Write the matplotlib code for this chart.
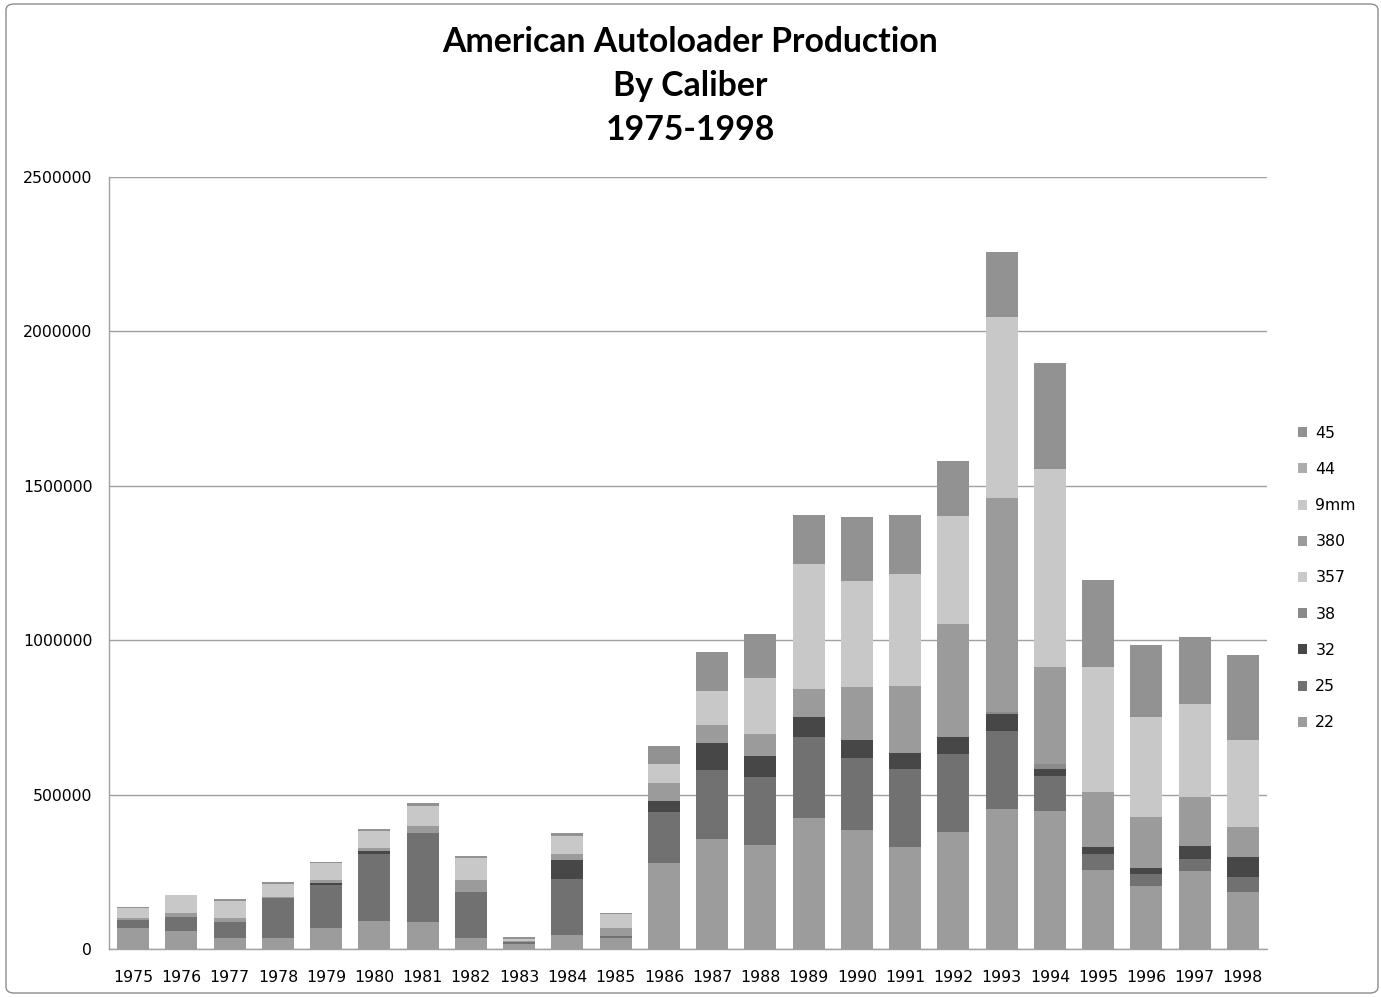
import matplotlib
matplotlib.use('Agg')
import matplotlib.pyplot as plt
import numpy as np
from matplotlib.patches import FancyBboxPatch

years = [str(y) for y in range(1975, 1999)]

# production by caliber (units)
cal22 = [69000, 59000, 36000, 36000, 69000, 90000, 86000, 36000, 16000, 46000, 36000, 279000,
         356000, 338000, 425000, 385000, 330000, 379000, 453000, 448000, 256000, 205000, 253000, 184000]
cal25 = [25000, 45000, 51000, 130000, 138000, 218000, 289000, 148000, 6000, 180000, 5000, 165000,
         225000, 219000, 262000, 234000, 253000, 254000, 253000, 111000, 53000, 38000, 39000, 50000]
cal32 = [0, 0, 0, 0, 6000, 10000, 2000, 0, 0, 63000, 0, 34000,
         87000, 68000, 63000, 58000, 53000, 53000, 55000, 25000, 21000, 19000, 43000, 64000]
cal38 = [0, 0, 0, 0, 0, 0, 0, 0, 0, 0, 0, 0,
         0, 0, 0, 0, 0, 0, 6000, 15000, 0, 0, 0, 0]
cal357 = [0] * 24
cal380 = [5000, 13000, 13000, 4000, 12000, 10000, 22000, 38000, 4000, 19000, 28000, 58000,
          58000, 72000, 92000, 170000, 216000, 367000, 694000, 314000, 180000, 166000, 156000, 97000]
cal9mm = [33000, 59000, 57000, 42000, 53000, 54000, 65000, 72000, 8000, 59000, 43000, 62000,
          108000, 180000, 404000, 345000, 362000, 349000, 587000, 643000, 402000, 322000, 303000, 282000]
cal44 = [0] * 24
cal45 = [5000, 0, 5000, 5000, 5000, 5000, 9000, 6000, 6000, 10000, 6000, 59000,
         127000, 142000, 160000, 206000, 191000, 179000, 210000, 343000, 283000, 234000, 215000, 274000]

series = [('22', cal22, '#9c9c9c'), ('25', cal25, '#717171'), ('32', cal32, '#474747'),
          ('38', cal38, '#8a8a8a'), ('357', cal357, '#c9c9c9'), ('380', cal380, '#9b9b9b'),
          ('9mm', cal9mm, '#c8c8c8'), ('44', cal44, '#acacac'), ('45', cal45, '#929292')]

fig = plt.figure(figsize=(13.81, 9.98), dpi=100)
ax = fig.add_axes([109/1381, 1-949/998, (1267-109)/1381, (949-177)/998])

x = np.arange(len(years))
bottom = np.zeros(len(years))
handles = []
for name, vals, col in series:
    h = ax.bar(x, vals, width=0.66, bottom=bottom, color=col, label=name, zorder=3)
    bottom += np.array(vals)
    handles.append(h)

ax.set_xlim(-0.5, len(years) - 0.5)
ax.set_ylim(0, 2500000)
ax.set_yticks(np.arange(0, 2500001, 500000))
ax.ticklabel_format(axis='y', style='plain')
ax.set_xticks(x)
ax.set_xticklabels(years)
ax.tick_params(axis='both', length=0, labelsize=11.3, colors='#000000')
ax.tick_params(axis='y', pad=12)
ax.tick_params(axis='x', pad=15)
ax.yaxis.grid(True, color='#a0a0a0', linewidth=1, zorder=0)
for s in ['top', 'right']:
    ax.spines[s].set_visible(False)
for s in ['left', 'bottom']:
    ax.spines[s].set_color('#a0a0a0')
    ax.spines[s].set_linewidth(1)

fig.legend(handles[::-1], [s[0] for s in series][::-1], loc='center left',
           bbox_to_anchor=(1298/1381, 1-578/998), frameon=False, fontsize=11.3,
           handlelength=0.6, handleheight=0.6, handletextpad=0.5, labelspacing=1.35,
           borderpad=0, borderaxespad=0)

fig.text(0.5, 1-42/998, 'American Autoloader Production', ha='center', va='center',
         fontsize=24.3, fontweight='bold', family='Lato')
fig.text(0.5, 1-86/998, 'By Caliber', ha='center', va='center',
         fontsize=24.3, fontweight='bold', family='Lato')
fig.text(0.5, 1-130/998, '1975-1998', ha='center', va='center',
         fontsize=24.3, fontweight='bold', family='Lato')

border = FancyBboxPatch((6/1381, 5/998), 1372/1381, 989/998, boxstyle='round,pad=0,rounding_size=0.006',
                        transform=fig.transFigure, fill=False, edgecolor='#8c8c8c', linewidth=1)
fig.patches.append(border)

plt.savefig('out.png', dpi=100)
